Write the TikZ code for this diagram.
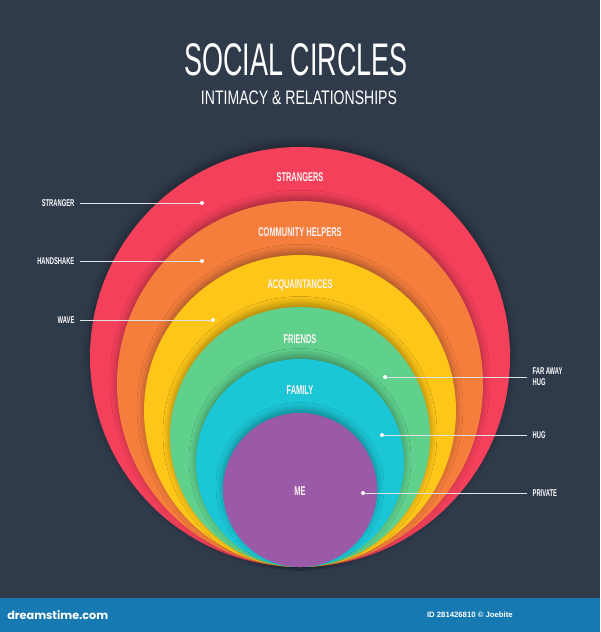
\documentclass[tikz,border=0pt]{standalone}
\usepackage{fontspec}
\setmainfont{Liberation Sans}
\newfontfamily\narrowfont[FakeStretch=0.59]{Liberation Sans}
\newfontfamily\titlefont[FakeStretch=0.59]{Liberation Sans}
\newfontfamily\subtitlefont[FakeStretch=0.72]{Liberation Sans}
\newfontfamily\footfont{Poppins}
\usepackage{tikz}
\usetikzlibrary{shadows.blur}
\definecolor{slate}{HTML}{2F3A4A}
\definecolor{footblue}{HTML}{1679B2}
\definecolor{strangercol}{HTML}{F4405A}
\definecolor{helpercol}{HTML}{F57E3C}
\definecolor{acquaintcol}{HTML}{FDC618}
\definecolor{friendcol}{HTML}{5FD18D}
\definecolor{familycol}{HTML}{1BC7D7}
\definecolor{mecol}{HTML}{9A5AA7}
\tikzset{
  ringlabel/.style={text=white!94!strangercol, inner sep=0pt, font=\narrowfont\bfseries\fontsize{9}{9}\selectfont},
  sidelabel/.style={text=white, inner sep=0pt, outer sep=4pt, align=left,
    font=\narrowfont\bfseries\fontsize{7}{8}\selectfont},
  leader/.style={draw=white!85!slate, line width=0.6pt},
  ringshadow/.style={blur shadow={shadow xshift=0pt, shadow yshift=2.5pt,
    shadow blur radius=5pt, shadow blur steps=8, shadow opacity=35}},
}

\begin{document}
\begin{tikzpicture}[x=0.025cm,y=-0.025cm]
                \fill[slate] (0,0) rectangle (600,632);
                \fill[footblue] (0,598) rectangle (600,632);
                \node[text=white] (title) at (296,60) {\titlefont\fontsize{32.5}{33}\selectfont SOCIAL CIRCLES};
                \node[text=white] (subtitle) at (299,98) {\subtitlefont\fontsize{13.9}{14}\selectfont INTIMACY \& RELATIONSHIPS};
                % rings, all touching at the bottom
                \fill[strangercol, ringshadow] (300,357) circle (210);
                \fill[helpercol, ringshadow] (300,384) circle (183);
                \fill[acquaintcol, ringshadow] (300,411) circle (156);
                \fill[friendcol, ringshadow] (300,437) circle (130);
                \fill[familycol, ringshadow] (300,463) circle (104);
                \fill[mecol, ringshadow] (300,490) circle (77);
                \node[ringlabel] (strangers) at (300,177) {STRANGERS};
                \node[ringlabel] (helpers) at (300,232) {COMMUNITY HELPERS};
                \node[ringlabel] (acquaint) at (300,285) {ACQUAINTANCES};
                \node[ringlabel] (friends) at (300,339) {FRIENDS};
                \node[ringlabel] (family) at (300,390) {FAMILY};
                \node[ringlabel] (me) at (300,491) {ME};
                % leaders
                \coordinate (dotstranger) at (202,203);
                \coordinate (dothandshake) at (202,261);
                \coordinate (dotwave) at (213,320);
                \coordinate (dotfaraway) at (385,377);
                \coordinate (dothug) at (382,435);
                \coordinate (dotprivate) at (363,493);
                \node[sidelabel, anchor=east] (stranger) at (80,203) {STRANGER};
                \node[sidelabel, anchor=east] (handshake) at (80,261) {HANDSHAKE};
                \node[sidelabel, anchor=east] (wave) at (80,320) {WAVE};
                \node[sidelabel, anchor=west] (faraway) at (527,377) {FAR AWAY\\HUG};
                \node[sidelabel, anchor=west] (hug) at (527,435) {HUG};
                \node[sidelabel, anchor=west] (private) at (527,493) {PRIVATE};
                \draw[leader] (stranger) -- (dotstranger);
                \draw[leader] (handshake) -- (dothandshake);
                \draw[leader] (wave) -- (dotwave);
                \draw[leader] (faraway) -- (dotfaraway);
                \draw[leader] (hug) -- (dothug);
                \draw[leader] (private) -- (dotprivate);
                \fill[white] (dotstranger) circle (2);
                \fill[white] (dothandshake) circle (2);
                \fill[white] (dotwave) circle (2);
                \fill[white] (dotfaraway) circle (2);
                \fill[white] (dothug) circle (2);
                \fill[white] (dotprivate) circle (2);
                % footer
                \node[anchor=west, text=white, inner sep=0pt] (site) at (7,615)
                {\footfont\bfseries\fontsize{8}{8}\selectfont dreamstime.com};
                \node[anchor=east, text=white, inner sep=0pt] (imageid) at (513,615)
                {\bfseries\fontsize{5.5}{6}\selectfont ID 281426810 \copyright{} Joebite};
            \end{tikzpicture}
\end{document}
